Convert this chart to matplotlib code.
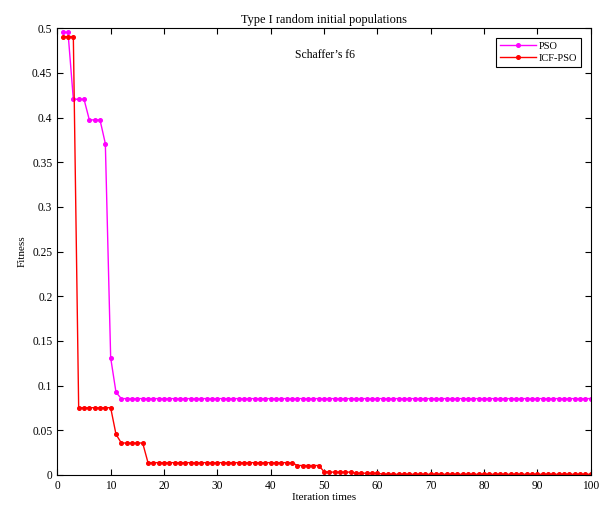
import matplotlib
matplotlib.use('Agg')
import matplotlib.pyplot as plt
from matplotlib.ticker import FuncFormatter

plt.rcParams['font.family'] = ['Liberation Serif', 'DejaVu Serif']
plt.rcParams['font.size'] = 8

# best fitness per iteration
iterations = list(range(1, 101))
pso = ([0.4955, 0.4955, 0.4206, 0.4206, 0.4206, 0.3975, 0.3975, 0.3975,
        0.371, 0.1312, 0.0925] + [0.0855] * 89)
icf_pso = ([0.4907, 0.4907, 0.4907] + [0.0753] * 7 + [0.0455] + [0.0358] * 5
           + [0.0138] * 28 + [0.0106] * 5 + [0.0038] + [0.0032] * 5
           + [0.0020] * 5 + [0.0008] * 40)

fig = plt.figure(figsize=(6.08, 5.11), dpi=100)
ax = fig.add_axes([0.0943, 0.0705, 0.8772, 0.8741])

ax.plot(iterations, pso, color='#ff00ff', lw=1, marker='o', ms=2.6,
        label='PSO')
ax.plot(iterations, icf_pso, color='#ff0000', lw=1, marker='o', ms=2.6,
        label='ICF-PSO')

ax.set_xlim(0, 100)
ax.set_ylim(0, 0.5)
ax.set_xticks(range(0, 101, 10))
ax.set_yticks([i * 0.05 for i in range(11)])
ax.yaxis.set_major_formatter(FuncFormatter(lambda v, p: '%g' % round(v, 2)))
ax.tick_params(direction='in', top=True, right=True, length=4, width=0.8,
               labelsize=8.3)
for s in ax.spines.values():
    s.set_linewidth(0.8)

ax.set_title('Type I random initial populations', fontsize=8.9, pad=4)
ax.set_xlabel('Iteration times', fontsize=8, labelpad=1)
ax.set_ylabel('Fitness', fontsize=8, labelpad=4)
ax.text(50.2, 0.47, 'Schaffer\u2019s f6', ha='center', va='center', fontsize=8.4)

leg = ax.legend(loc='upper right', fontsize=7.5, numpoints=1, fancybox=False,
                edgecolor='black', framealpha=1, handlelength=3.4,
                borderaxespad=0.9, borderpad=0.4, labelspacing=0.25,
                handletextpad=0.3)
leg.get_frame().set_linewidth(0.8)

fig.savefig('out.png', dpi=100)
